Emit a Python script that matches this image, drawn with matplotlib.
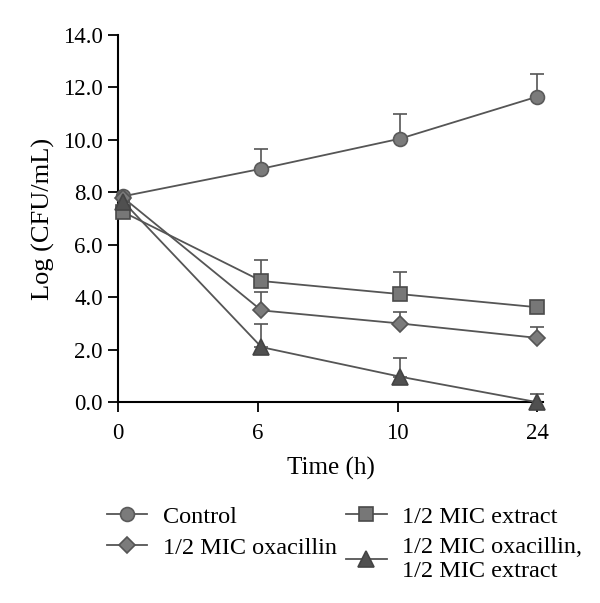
import matplotlib
matplotlib.use('Agg')
import matplotlib.pyplot as plt
import numpy as np

# data
times = ['0', '6', '10', '24']
control = [7.85, 8.9, 10.05, 11.65]
control_err = [0.0, 0.75, 0.95, 0.85]
oxacillin = [7.8, 3.5, 3.0, 2.45]
oxacillin_err = [0.0, 0.7, 0.45, 0.4]
extract = [7.25, 4.62, 4.12, 3.62]
extract_err = [0.0, 0.8, 0.85, 0.15]
combo = [7.65, 2.1, 0.97, 0.0]
combo_err = [0.0, 0.9, 0.72, 0.32]

plt.rcParams['font.family'] = ['Liberation Serif', 'DejaVu Serif']

fig = plt.figure(figsize=(6.0, 6.03), dpi=100)
ax = fig.add_axes([0.197, 0.333, 0.708, 0.609])

x = np.arange(len(times)) + np.array([0.035, 0.025, 0.02, 0.0])
line_col = '#555555'

series = [
    ('Control', control, control_err, 'o', '#7b7b7b', '#5a5a5a', 10),
    ('1/2 MIC oxacillin', oxacillin, oxacillin_err, 'D', '#7b7b7b', '#555555', 8),
    ('1/2 MIC extract', extract, extract_err, 's', '#777777', '#4a4a4a', 10),
    ('1/2 MIC oxacillin,\n1/2 MIC extract', combo, combo_err, '^', '#505050', '#444444', 11),
]

handles = []
for label, vals, err, mk, fc, ec, ms in series:
    vals = np.array(vals)
    err = np.array(err)
    ax.errorbar(x, vals, yerr=[np.zeros_like(err), err], fmt='none',
                ecolor=line_col, elinewidth=1.2, capsize=5, capthick=1.2, zorder=2)
    h, = ax.plot(x, vals, color=line_col, lw=1.3, marker=mk, ms=ms,
                 mfc=fc, mec=ec, mew=1.2, label=label, zorder=3, clip_on=False)
    handles.append(h)

ax.set_xlim(0, 3.04)
ax.set_ylim(0, 14)
ax.set_yticks(np.arange(0, 14.1, 2))
ax.set_yticklabels(['%.1f' % v for v in np.arange(0, 14.1, 2)])
ax.set_xticks(np.arange(len(times)))
ax.set_xticklabels(times)
ax.tick_params(direction='out', length=7, width=1.3, labelsize=16.5, colors='black')
ax.tick_params(axis='x', pad=8)
ax.tick_params(axis='y', pad=4)
for s in ['top', 'right']:
    ax.spines[s].set_visible(False)
for s in ['left', 'bottom']:
    ax.spines[s].set_linewidth(1.5)

ax.set_xlabel('Time (h)', fontsize=18, labelpad=9)
ax.set_ylabel('Log (CFU/mL)', fontsize=19, labelpad=6)

fig.legend(handles=handles, loc='upper left', bbox_to_anchor=(0.178, 0.161),
           ncol=2, frameon=False, fontsize=17.5, handlelength=1.65,
           handletextpad=0.65, columnspacing=0.4, labelspacing=0.36,
           borderpad=0, borderaxespad=0, alignment='left')

fig.savefig('out.png', dpi=100)
